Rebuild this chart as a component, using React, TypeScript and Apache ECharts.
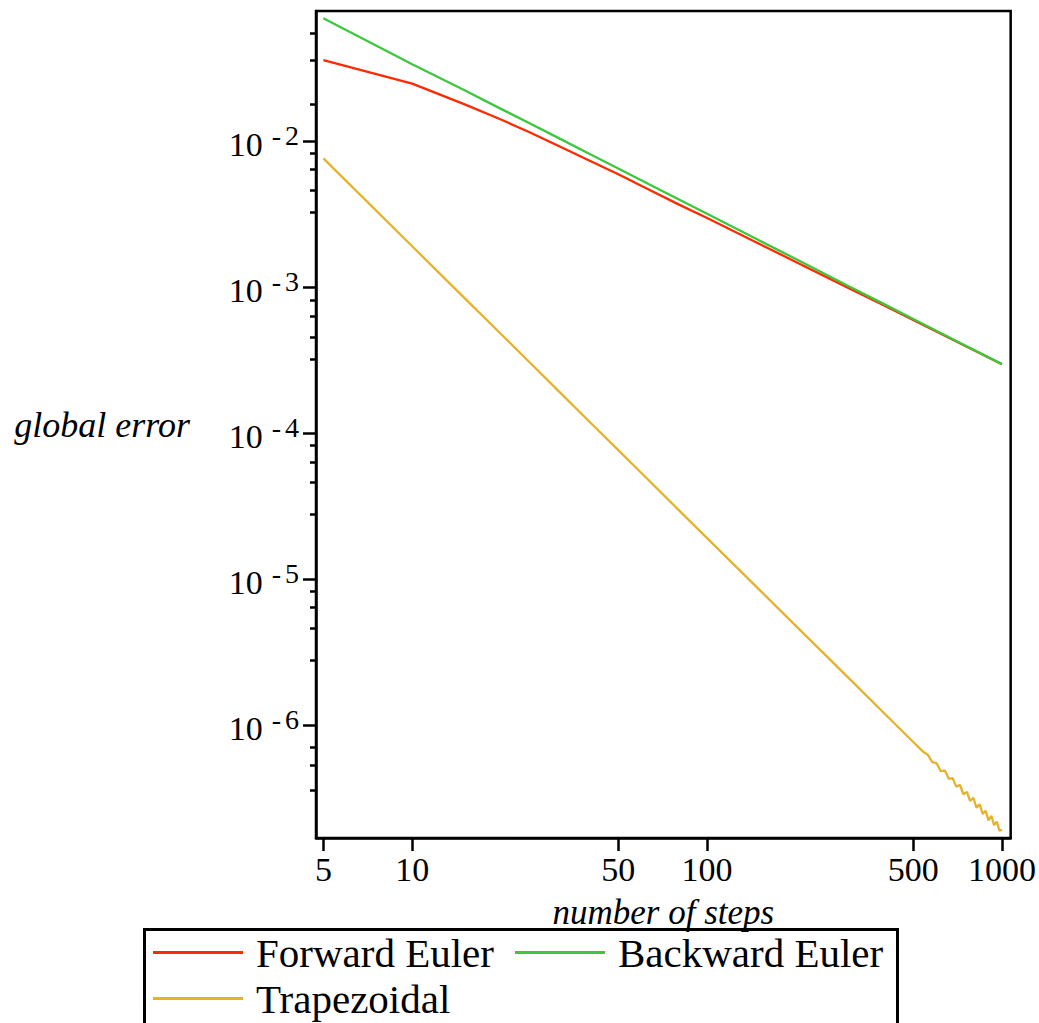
import React, { useEffect, useRef } from "react";
import * as echarts from "echarts";

// ---- data ----
const nSteps = [5, 10, 15, 20, 25, 30, 40, 50, 60, 80, 100, 150, 200, 300, 400, 500, 700, 1000];
const forwardEuler = [
  0.0363, 0.025, 0.0181, 0.0142, 0.0116, 0.00975, 0.0074, 0.00598, 0.00497, 0.00372,
  0.003, 0.002, 0.0015, 0.001, 0.000752, 0.000601, 0.000427, 0.000298,
];
const backwardEuler = [
  0.0701, 0.034, 0.0226, 0.0168, 0.0134, 0.0111, 0.00824, 0.00655, 0.00543, 0.00404,
  0.00321, 0.00211, 0.00157, 0.00103, 0.000768, 0.00061, 0.000431, 0.000299,
];
const trapSteps = [
  5, 10, 15, 20, 25, 30, 40, 50, 60, 80, 100, 150, 200, 300, 400, 500, 540, 560, 580, 600,
  620, 640, 660, 680, 700, 720, 740, 760, 780, 800, 820, 840, 860, 880, 900, 920, 940, 960,
  980, 1000,
];
const trapezoidal = [
  7.69e-3, 1.92e-3, 8.55e-4, 4.81e-4, 3.08e-4, 2.14e-4, 1.2e-4, 7.69e-5, 5.34e-5, 3.0e-5,
  1.92e-5, 8.55e-6, 4.81e-6, 2.14e-6, 1.2e-6, 7.69e-7, 6.6e-7, 6.3e-7, 5.6e-7, 5.5e-7,
  4.85e-7, 4.9e-7, 4.3e-7, 4.35e-7, 3.8e-7, 3.9e-7, 3.37e-7, 3.5e-7, 3.03e-7, 3.18e-7,
  2.72e-7, 2.88e-7, 2.47e-7, 2.6e-7, 2.23e-7, 2.4e-7, 2.07e-7, 2.19e-7, 1.9e-7, 1.92e-7,
];
const seriesNames = ["Forward Euler", "Backward Euler", "Trapezoidal"];
const xTickValues = [5, 10, 50, 100, 500, 1000];
const yMajorTicks = [1e-2, 1e-3, 1e-4, 1e-5, 1e-6];
const yMinorTicks = [
  0.0553, 0.0363, 0.0181,
  0.00832, 0.00648, 0.00462, 0.00328,
  8.24e-4, 6.41e-4, 4.56e-4, 3.25e-4,
  8.32e-5, 6.4e-5, 4.64e-5, 2.81e-5,
  8.31e-6, 6.45e-6, 4.62e-6, 2.81e-6,
  7.13e-7, 5.35e-7, 3.6e-7,
];

const FONT = "Liberation Serif";
const COLORS = ["#ff2a00", "#3cc83c", "#e5b22c"];
const X_MIN = 4.72;
const X_MAX = 1070;
const Y_MIN = 1.69e-7;
const Y_MAX = 0.0787;

export default function App() {
  const ref = useRef<HTMLDivElement>(null);
  useEffect(() => {
    if (!ref.current) return;
    const chart = echarts.init(ref.current, undefined, { renderer: "svg" });
    const yLabelRich = {
      a: { fontFamily: FONT, fontSize: 34, lineHeight: 40, verticalAlign: "bottom", color: "#000" },
      b: { fontFamily: FONT, fontSize: 28, lineHeight: 20, verticalAlign: "top", color: "#000", padding: [0, 4, 0, 9] },
      c: { fontFamily: FONT, fontSize: 28, lineHeight: 20, verticalAlign: "top", color: "#000" },
    };
    const legendCommon = {
      orient: "horizontal",
      icon: "rect",
      itemWidth: 90,
      itemHeight: 3,
      itemGap: 21,
      padding: 0,
      selectedMode: false,
      textStyle: {
        fontFamily: FONT,
        fontSize: 41,
        color: "#000",
        padding: [0, 0, 0, 8],
      },
    };
    chart.setOption({
      animation: false,
      backgroundColor: "#fff",
      color: COLORS,
      grid: {
        left: 316,
        top: 11,
        width: 696,
        height: 827,
        show: true,
        borderColor: "#000",
        borderWidth: 2.5,
        containLabel: false,
      },
      legend: [
        { ...legendCommon, data: [seriesNames[0], seriesNames[1]], left: 153, top: 932 },
        { ...legendCommon, data: [seriesNames[2]], left: 153, top: 978 },
      ],
      graphic: [
        {
          type: "rect",
          left: 142,
          top: 927,
          shape: { width: 753, height: 200 },
          style: { fill: "none", stroke: "#000", lineWidth: 3 },
          silent: true,
        },
      ],
      xAxis: {
        type: "log",
        min: X_MIN,
        max: X_MAX,
        name: "number of steps",
        nameLocation: "middle",
        nameGap: 57,
        nameTextStyle: { fontFamily: FONT, fontSize: 35, fontStyle: "italic", color: "#000" },
        axisLine: { show: true, onZero: false, lineStyle: { color: "#000", width: 2.5 } },
        axisTick: { show: true, inside: false, length: 13, customValues: xTickValues, lineStyle: { color: "#000", width: 2.5 } },
        axisLabel: {
          customValues: xTickValues,
          margin: 14,
          fontFamily: FONT,
          fontSize: 34,
          color: "#000",
          formatter: (v: number) => String(Math.round(v)),
        },
        splitLine: { show: false },
        minorTick: { show: false },
      },
      yAxis: [
        {
          type: "log",
          position: "left",
          min: Y_MIN,
          max: Y_MAX,
          name: "global error",
          nameLocation: "middle",
          nameRotate: 0,
          nameGap: 126,
          nameTextStyle: { fontFamily: FONT, fontSize: 36, fontStyle: "italic", color: "#000" },
          axisLine: { show: true, onZero: false, lineStyle: { color: "#000", width: 2.5 } },
          axisTick: { show: true, inside: false, length: 13, customValues: yMajorTicks, lineStyle: { color: "#000", width: 2.5 } },
          axisLabel: {
            customValues: yMajorTicks,
            margin: 17,
            formatter: (v: number) => {
              const e = Math.round(Math.log10(v));
              return `{a|10}{b|-}{c|${-e}}`;
            },
            rich: yLabelRich,
          },
          splitLine: { show: false },
        },
        {
          type: "log",
          position: "left",
          min: Y_MIN,
          max: Y_MAX,
          axisLine: { show: false },
          axisTick: { show: true, inside: false, length: 6, customValues: yMinorTicks, lineStyle: { color: "#000", width: 2.5 } },
          axisLabel: { show: false },
          splitLine: { show: false },
        },
      ],
      series: [
        {
          name: seriesNames[0],
          type: "line",
          data: nSteps.map((n, i) => [n, forwardEuler[i]]),
          showSymbol: false,
          symbol: "none",
          lineStyle: { width: 2.3, color: COLORS[0] },
          itemStyle: { color: COLORS[0] },
        },
        {
          name: seriesNames[1],
          type: "line",
          data: nSteps.map((n, i) => [n, backwardEuler[i]]),
          showSymbol: false,
          symbol: "none",
          lineStyle: { width: 2.3, color: COLORS[1] },
          itemStyle: { color: COLORS[1] },
        },
        {
          name: seriesNames[2],
          type: "line",
          data: trapSteps.map((n, i) => [n, trapezoidal[i]]),
          showSymbol: false,
          symbol: "none",
          lineStyle: { width: 2.3, color: COLORS[2] },
          itemStyle: { color: COLORS[2] },
        },
      ],
    });
    return () => chart.dispose();
  }, []);
  return (
    <div
      ref={ref}
      style={{ position: "absolute", left: 0, top: 0, width: 1039, height: 1023, background: "#fff" }}
    />
  );
}
